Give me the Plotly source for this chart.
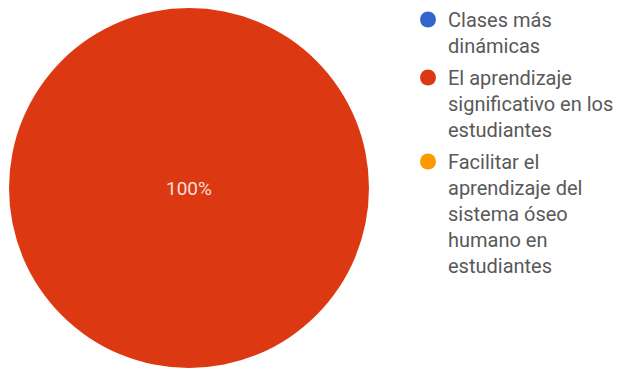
import plotly.graph_objects as go

# Survey answers and their share of responses
labels = [
    "Clases más dinámicas",
    "El aprendizaje significativo en los estudiantes",
    "Facilitar el aprendizaje del sistema óseo humano en estudiantes",
]
legend_text = [
    "Clases más<br>dinámicas",
    "El aprendizaje<br>significativo en los<br>estudiantes",
    "Facilitar el<br>aprendizaje del<br>sistema óseo<br>humano en<br>estudiantes",
]
values = [0, 100, 0]
colors = ["#3366CC", "#DC3912", "#FF9900"]

W, H = 621, 368

fig = go.Figure()

fig.add_trace(go.Pie(
    labels=labels,
    values=values,
    marker=dict(colors=colors, line=dict(width=0)),
    textinfo="percent",
    textposition="inside",
    insidetextfont=dict(family="Roboto", size=19, color="rgba(255,255,255,0.85)"),
    sort=False,
    direction="clockwise",
    showlegend=False,
    domain=dict(x=[9 / W, 369 / W], y=[0, 1 - 8 / H]),
    hoverinfo="label+percent",
))

# Legend entries drawn with round markers, one group each
for i, (txt, col) in enumerate(zip(legend_text, colors)):
    fig.add_trace(go.Scatter(
        x=[None], y=[None], mode="markers", name=txt,
        legendgroup=f"g{i}",
        marker=dict(symbol="circle", size=17, color=col),
        hoverinfo="skip",
    ))

fig.update_layout(
    width=W, height=H,
    margin=dict(l=0, r=0, t=0, b=0),
    paper_bgcolor="white", plot_bgcolor="white",
    xaxis=dict(visible=False), yaxis=dict(visible=False),
    showlegend=True,
    legend=dict(
        x=408 / W, y=1, xanchor="left", yanchor="top",
        font=dict(family="Roboto", size=20, color="#595959"),
        valign="top",
        tracegroupgap=3,
        bgcolor="rgba(0,0,0,0)",
    ),
)

fig.write_html("out.html")
